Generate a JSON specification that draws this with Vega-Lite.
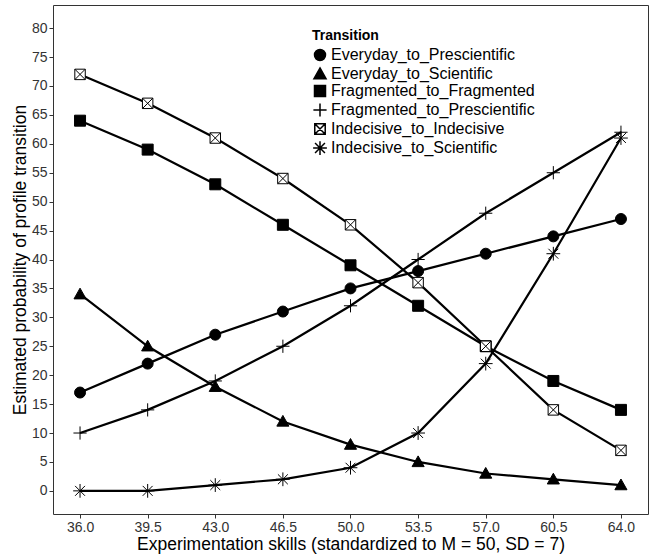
{
  "$schema": "https://vega.github.io/schema/vega-lite/v6.json",
  "width": 595,
  "height": 509,
  "autosize": {"type": "none"},
  "padding": {"left": 53, "top": 5, "right": 3, "bottom": 42},
  "background": "white",
  "config": {
    "view": {"stroke": "#333333", "strokeWidth": 1},
    "font": "Liberation Sans"
  },
  "data": {
    "values": [
      {"skill": 36.0, "prob": 17, "Transition": "Everyday_to_Prescientific"},
      {"skill": 39.5, "prob": 22, "Transition": "Everyday_to_Prescientific"},
      {"skill": 43.0, "prob": 27, "Transition": "Everyday_to_Prescientific"},
      {"skill": 46.5, "prob": 31, "Transition": "Everyday_to_Prescientific"},
      {"skill": 50.0, "prob": 35, "Transition": "Everyday_to_Prescientific"},
      {"skill": 53.5, "prob": 38, "Transition": "Everyday_to_Prescientific"},
      {"skill": 57.0, "prob": 41, "Transition": "Everyday_to_Prescientific"},
      {"skill": 60.5, "prob": 44, "Transition": "Everyday_to_Prescientific"},
      {"skill": 64.0, "prob": 47, "Transition": "Everyday_to_Prescientific"},
      {"skill": 36.0, "prob": 34, "Transition": "Everyday_to_Scientific"},
      {"skill": 39.5, "prob": 25, "Transition": "Everyday_to_Scientific"},
      {"skill": 43.0, "prob": 18, "Transition": "Everyday_to_Scientific"},
      {"skill": 46.5, "prob": 12, "Transition": "Everyday_to_Scientific"},
      {"skill": 50.0, "prob": 8, "Transition": "Everyday_to_Scientific"},
      {"skill": 53.5, "prob": 5, "Transition": "Everyday_to_Scientific"},
      {"skill": 57.0, "prob": 3, "Transition": "Everyday_to_Scientific"},
      {"skill": 60.5, "prob": 2, "Transition": "Everyday_to_Scientific"},
      {"skill": 64.0, "prob": 1, "Transition": "Everyday_to_Scientific"},
      {"skill": 36.0, "prob": 64, "Transition": "Fragmented_to_Fragmented"},
      {"skill": 39.5, "prob": 59, "Transition": "Fragmented_to_Fragmented"},
      {"skill": 43.0, "prob": 53, "Transition": "Fragmented_to_Fragmented"},
      {"skill": 46.5, "prob": 46, "Transition": "Fragmented_to_Fragmented"},
      {"skill": 50.0, "prob": 39, "Transition": "Fragmented_to_Fragmented"},
      {"skill": 53.5, "prob": 32, "Transition": "Fragmented_to_Fragmented"},
      {"skill": 57.0, "prob": 25, "Transition": "Fragmented_to_Fragmented"},
      {"skill": 60.5, "prob": 19, "Transition": "Fragmented_to_Fragmented"},
      {"skill": 64.0, "prob": 14, "Transition": "Fragmented_to_Fragmented"},
      {"skill": 36.0, "prob": 10, "Transition": "Fragmented_to_Prescientific"},
      {"skill": 39.5, "prob": 14, "Transition": "Fragmented_to_Prescientific"},
      {"skill": 43.0, "prob": 19, "Transition": "Fragmented_to_Prescientific"},
      {"skill": 46.5, "prob": 25, "Transition": "Fragmented_to_Prescientific"},
      {"skill": 50.0, "prob": 32, "Transition": "Fragmented_to_Prescientific"},
      {"skill": 53.5, "prob": 40, "Transition": "Fragmented_to_Prescientific"},
      {"skill": 57.0, "prob": 48, "Transition": "Fragmented_to_Prescientific"},
      {"skill": 60.5, "prob": 55, "Transition": "Fragmented_to_Prescientific"},
      {"skill": 64.0, "prob": 62, "Transition": "Fragmented_to_Prescientific"},
      {"skill": 36.0, "prob": 72, "Transition": "Indecisive_to_Indecisive"},
      {"skill": 39.5, "prob": 67, "Transition": "Indecisive_to_Indecisive"},
      {"skill": 43.0, "prob": 61, "Transition": "Indecisive_to_Indecisive"},
      {"skill": 46.5, "prob": 54, "Transition": "Indecisive_to_Indecisive"},
      {"skill": 50.0, "prob": 46, "Transition": "Indecisive_to_Indecisive"},
      {"skill": 53.5, "prob": 36, "Transition": "Indecisive_to_Indecisive"},
      {"skill": 57.0, "prob": 25, "Transition": "Indecisive_to_Indecisive"},
      {"skill": 60.5, "prob": 14, "Transition": "Indecisive_to_Indecisive"},
      {"skill": 64.0, "prob": 7, "Transition": "Indecisive_to_Indecisive"},
      {"skill": 36.0, "prob": 0, "Transition": "Indecisive_to_Scientific"},
      {"skill": 39.5, "prob": 0, "Transition": "Indecisive_to_Scientific"},
      {"skill": 43.0, "prob": 1, "Transition": "Indecisive_to_Scientific"},
      {"skill": 46.5, "prob": 2, "Transition": "Indecisive_to_Scientific"},
      {"skill": 50.0, "prob": 4, "Transition": "Indecisive_to_Scientific"},
      {"skill": 53.5, "prob": 10, "Transition": "Indecisive_to_Scientific"},
      {"skill": 57.0, "prob": 22, "Transition": "Indecisive_to_Scientific"},
      {"skill": 60.5, "prob": 41, "Transition": "Indecisive_to_Scientific"},
      {"skill": 64.0, "prob": 61, "Transition": "Indecisive_to_Scientific"}
    ]
  },
  "encoding": {
    "x": {
      "field": "skill",
      "type": "quantitative",
      "scale": {"domain": [34.6, 65.4], "nice": false, "zero": false},
      "axis": {
        "values": [36.0, 39.5, 43.0, 46.5, 50.0, 53.5, 57.0, 60.5, 64.0],
        "format": ".1f",
        "title": "Experimentation skills (standardized to M = 50, SD = 7)",
        "grid": false,
        "domain": false,
        "tickColor": "#333333",
        "tickSize": 4,
        "labelColor": "#333333",
        "labelFontSize": 14,
        "labelPadding": 2,
        "titleFontSize": 17.5,
        "titleFontWeight": "normal",
        "titleColor": "black",
        "titlePadding": 1
      }
    },
    "y": {
      "field": "prob",
      "type": "quantitative",
      "scale": {"domain": [-4, 84], "nice": false, "zero": false},
      "axis": {
        "values": [0, 5, 10, 15, 20, 25, 30, 35, 40, 45, 50, 55, 60, 65, 70, 75, 80],
        "title": "Estimated probability of profile transition",
        "grid": false,
        "domain": false,
        "tickColor": "#333333",
        "tickSize": 4,
        "labelColor": "#333333",
        "labelFontSize": 14,
        "labelPadding": 2,
        "titleFontSize": 17.5,
        "titleFontWeight": "normal",
        "titleColor": "black",
        "titlePadding": 2
      }
    }
  },
  "layer": [
    {
      "mark": {"type": "line", "color": "black", "strokeWidth": 2.2},
      "encoding": {
        "detail": {"field": "Transition", "type": "nominal"},
        "order": {"field": "skill", "type": "quantitative"}
      }
    },
    {
      "mark": {"type": "point", "stroke": "black", "strokeWidth": 1, "opacity": 1, "size": 121},
      "encoding": {
        "shape": {
          "field": "Transition",
          "type": "nominal",
          "scale": {
            "domain": ["Everyday_to_Prescientific", "Everyday_to_Scientific", "Fragmented_to_Fragmented", "Fragmented_to_Prescientific", "Indecisive_to_Indecisive", "Indecisive_to_Scientific"],
            "range": [
              "circle",
              "M0,-1.1L1.1,0.85L-1.1,0.85Z",
              "square",
              "M-1.2,0H1.2M0,-1.2V1.2",
              "M-0.95,-0.95H0.95V0.95H-0.95ZM-0.95,-0.95L0.95,0.95M-0.95,0.95L0.95,-0.95",
              "M-1.25,0H1.25M0,-1.25V1.25M-0.9,-0.9L0.9,0.9M-0.9,0.9L0.9,-0.9"
            ]
          },
          "legend": {
            "title": "Transition",
            "orient": "none",
            "legendX": 259,
            "legendY": 24,
            "titleFontSize": 14,
            "titleFontWeight": "bold",
            "titleColor": "black",
            "titlePadding": 4,
            "labelFontSize": 16,
            "labelColor": "black",
            "labelLimit": 400,
            "symbolSize": 121,
            "rowPadding": 0,
            "labelOffset": 3,
            "encode": {"symbols": {"update": {"stroke": {"value": "#222222"}, "strokeWidth": {"value": 0.9}, "opacity": {"value": 1}}}}
          }
        },
        "fill": {
          "field": "Transition",
          "type": "nominal",
          "scale": {
            "domain": ["Everyday_to_Prescientific", "Everyday_to_Scientific", "Fragmented_to_Fragmented", "Fragmented_to_Prescientific", "Indecisive_to_Indecisive", "Indecisive_to_Scientific"],
            "range": ["black", "black", "black", "transparent", "white", "transparent"]
          },
          "legend": {
            "title": "Transition",
            "orient": "none",
            "legendX": 259,
            "legendY": 24,
            "titleFontSize": 14,
            "titleFontWeight": "bold",
            "titleColor": "black",
            "titlePadding": 4,
            "labelFontSize": 16,
            "labelColor": "black",
            "labelLimit": 400,
            "symbolSize": 121,
            "rowPadding": 0,
            "labelOffset": 3,
            "encode": {"symbols": {"update": {"stroke": {"value": "#222222"}, "strokeWidth": {"value": 0.9}, "opacity": {"value": 1}}}}
          }
        }
      }
    }
  ]
}
